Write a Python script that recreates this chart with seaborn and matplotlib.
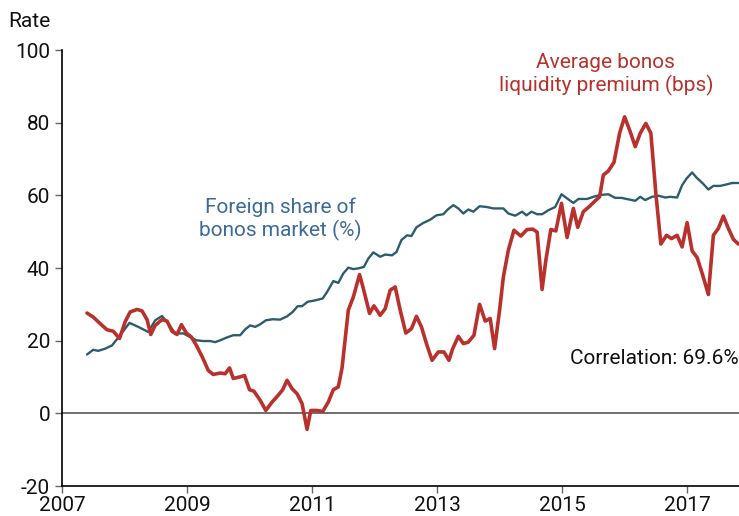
import pandas as pd
import matplotlib
matplotlib.use("Agg")
import matplotlib.pyplot as plt
import seaborn as sns

# foreign share of bonos market (%)
share_x = [2007.40, 2007.50, 2007.58, 2007.69, 2007.80, 2007.93, 2008.08, 2008.22, 2008.38, 2008.49,
           2008.60, 2008.70, 2008.81, 2008.94, 2009.05, 2009.15, 2009.26, 2009.37, 2009.45, 2009.53,
           2009.64, 2009.74, 2009.85, 2009.93, 2010.01, 2010.09, 2010.17, 2010.26, 2010.37, 2010.49,
           2010.60, 2010.69, 2010.77, 2010.84, 2010.93, 2011.05, 2011.17, 2011.24, 2011.34, 2011.42,
           2011.50, 2011.58, 2011.66, 2011.74, 2011.83, 2011.90, 2011.98, 2012.09, 2012.17, 2012.28,
           2012.35, 2012.43, 2012.52, 2012.59, 2012.67, 2012.78, 2012.89, 2012.99, 2013.10, 2013.17,
           2013.26, 2013.34, 2013.42, 2013.50, 2013.58, 2013.68, 2013.79, 2013.90, 2013.98, 2014.06,
           2014.14, 2014.25, 2014.36, 2014.43, 2014.51, 2014.60, 2014.68, 2014.78, 2014.89, 2014.99,
           2015.10, 2015.18, 2015.26, 2015.40, 2015.50, 2015.61, 2015.74, 2015.85, 2015.95, 2016.06,
           2016.17, 2016.25, 2016.33, 2016.44, 2016.54, 2016.65, 2016.73, 2016.84, 2016.92, 2016.99,
           2017.08, 2017.15, 2017.25, 2017.34, 2017.42, 2017.53, 2017.63, 2017.72, 2017.82]
share_y = [16.2, 17.5, 17.2, 17.8, 18.7, 21.5, 24.9, 23.8, 22.4, 25.6,
           26.8, 24.7, 22.0, 22.0, 21.0, 20.1, 19.9, 19.9, 19.6, 20.1,
           20.9, 21.5, 21.5, 23.1, 24.2, 23.8, 24.5, 25.6, 25.9, 25.8,
           26.7, 27.9, 29.5, 29.5, 30.7, 31.1, 31.6, 33.4, 36.4, 35.9,
           38.5, 40.1, 39.7, 39.9, 40.3, 42.6, 44.3, 43.1, 43.7, 43.5,
           44.4, 47.7, 49.0, 48.8, 51.2, 52.4, 53.3, 54.5, 54.8, 56.1,
           57.3, 56.4, 55.0, 56.1, 55.5, 57.0, 56.8, 56.4, 56.4, 56.4,
           55.0, 54.4, 55.5, 54.5, 55.5, 54.8, 54.8, 55.9, 56.8, 60.3,
           58.9, 57.9, 59.0, 59.0, 59.6, 60.1, 60.3, 59.3, 59.3, 58.9,
           58.5, 59.6, 58.7, 59.6, 59.9, 59.4, 59.6, 59.4, 62.8, 64.6,
           66.3, 64.9, 63.3, 61.6, 62.6, 62.6, 63.0, 63.4, 63.4]

# average bonos liquidity premium (bps)
prem_x = [2007.40, 2007.50, 2007.61, 2007.72, 2007.82, 2007.92, 2008.01, 2008.09, 2008.20, 2008.28,
          2008.36, 2008.42, 2008.49, 2008.60, 2008.68, 2008.76, 2008.84, 2008.91, 2008.99, 2009.07,
          2009.15, 2009.25, 2009.34, 2009.42, 2009.53, 2009.61, 2009.68, 2009.74, 2009.84, 2009.92,
          2010.00, 2010.07, 2010.17, 2010.26, 2010.36, 2010.46, 2010.53, 2010.60, 2010.68, 2010.76,
          2010.84, 2010.92, 2010.98, 2011.08, 2011.17, 2011.26, 2011.34, 2011.42, 2011.48, 2011.58,
          2011.66, 2011.76, 2011.82, 2011.92, 2011.99, 2012.09, 2012.17, 2012.25, 2012.33, 2012.41,
          2012.50, 2012.59, 2012.67, 2012.75, 2012.83, 2012.92, 2013.02, 2013.11, 2013.19, 2013.25,
          2013.34, 2013.42, 2013.50, 2013.59, 2013.68, 2013.77, 2013.85, 2013.92, 2014.00, 2014.06,
          2014.14, 2014.23, 2014.34, 2014.44, 2014.53, 2014.60, 2014.68, 2014.74, 2014.82, 2014.90,
          2014.99, 2015.08, 2015.18, 2015.25, 2015.34, 2015.44, 2015.53, 2015.60, 2015.66, 2015.74,
          2015.83, 2015.92, 2016.00, 2016.09, 2016.17, 2016.25, 2016.34, 2016.42, 2016.50, 2016.58,
          2016.67, 2016.75, 2016.84, 2016.92, 2017.00, 2017.08, 2017.16, 2017.25, 2017.34, 2017.42,
          2017.50, 2017.58, 2017.66, 2017.74, 2017.82]
prem_y = [27.6, 26.5, 24.7, 23.0, 22.6, 20.6, 25.2, 27.9, 28.6, 28.2,
          25.8, 21.7, 24.2, 25.8, 25.4, 22.6, 21.7, 24.4, 22.1, 21.0,
          18.7, 15.3, 11.8, 10.7, 11.1, 10.9, 12.5, 9.6, 10.0, 10.4,
          6.5, 6.1, 3.6, 0.8, 3.1, 5.0, 6.5, 9.1, 6.8, 5.4,
          2.7, -4.4, 0.8, 0.8, 0.5, 3.1, 6.5, 7.3, 12.5, 28.4,
          32.0, 38.2, 34.4, 27.5, 29.6, 27.0, 28.8, 33.9, 34.8, 28.4,
          22.1, 23.3, 26.7, 23.8, 19.2, 14.6, 16.9, 16.9, 14.6, 17.8,
          21.2, 19.2, 19.6, 21.5, 30.0, 25.4, 26.1, 17.8, 28.4, 37.5,
          44.9, 50.4, 48.8, 50.6, 50.7, 49.9, 34.1, 42.1, 50.6, 50.2,
          57.8, 48.4, 56.4, 51.2, 55.5, 57.0, 58.5, 59.6, 65.6, 66.7,
          69.1, 77.1, 81.6, 77.5, 73.4, 77.1, 79.8, 77.1, 60.5, 46.6,
          49.0, 48.1, 49.0, 45.8, 52.5, 44.7, 42.9, 38.0, 32.7, 49.0,
          50.9, 54.3, 50.9, 47.9, 46.6]

year_ticks = [2007, 2009, 2011, 2013, 2015, 2017]
rate_ticks = [-20, 0, 20, 40, 60, 80, 100]

BLUE_LINE = "#2b5d6e"
BLUE_TEXT = "#3c6b99"
RED = "#b9312c"

sns.set_style("ticks")
plt.rcParams["font.family"] = ["Roboto", "DejaVu Sans"]
plt.rcParams["axes.unicode_minus"] = False

fig = plt.figure(figsize=(7.39, 5.16), dpi=100)
ax = fig.add_axes([0.0839, 0.0581, 0.9161, 0.845])

ax.axhline(0, color="#555555", lw=1.2, zorder=1)
sns.lineplot(x=share_x, y=share_y, ax=ax, color=BLUE_LINE, lw=1.7, zorder=2)
sns.lineplot(x=prem_x, y=prem_y, ax=ax, color=RED, lw=2.6, zorder=3)

ax.set_xlim(2007, 2017.83)
ax.set_ylim(-20, 100)
ax.set_xticks(year_ticks)
ax.set_yticks(rate_ticks)
ax.tick_params(axis="both", labelsize=15, length=5, width=1, color="#666666", labelcolor="#111111")
ax.tick_params(axis="x", pad=2)
sns.despine(ax=ax)
for s in ("left", "bottom"):
    ax.spines[s].set_color("black")
    ax.spines[s].set_linewidth(1.2)
ax.set_xlabel("")
ax.set_ylabel("")

fig.text(0.011, 0.958, "Rate", fontsize=15, color="#111111", ha="left", va="center")
ax.text(2010.5, 53.4, "Foreign share of\nbonos market (%)", color=BLUE_TEXT, fontsize=15,
        ha="center", va="center", linespacing=1.15)
ax.text(2015.7, 93.2, "Average bonos\nliquidity premium (bps)", color=RED, fontsize=15,
        ha="center", va="center", linespacing=1.15)
ax.text(2017.83, 15, "Correlation: 69.6%", color="#111111", fontsize=15,
        ha="right", va="center")

fig.savefig("out.png", dpi=100)
